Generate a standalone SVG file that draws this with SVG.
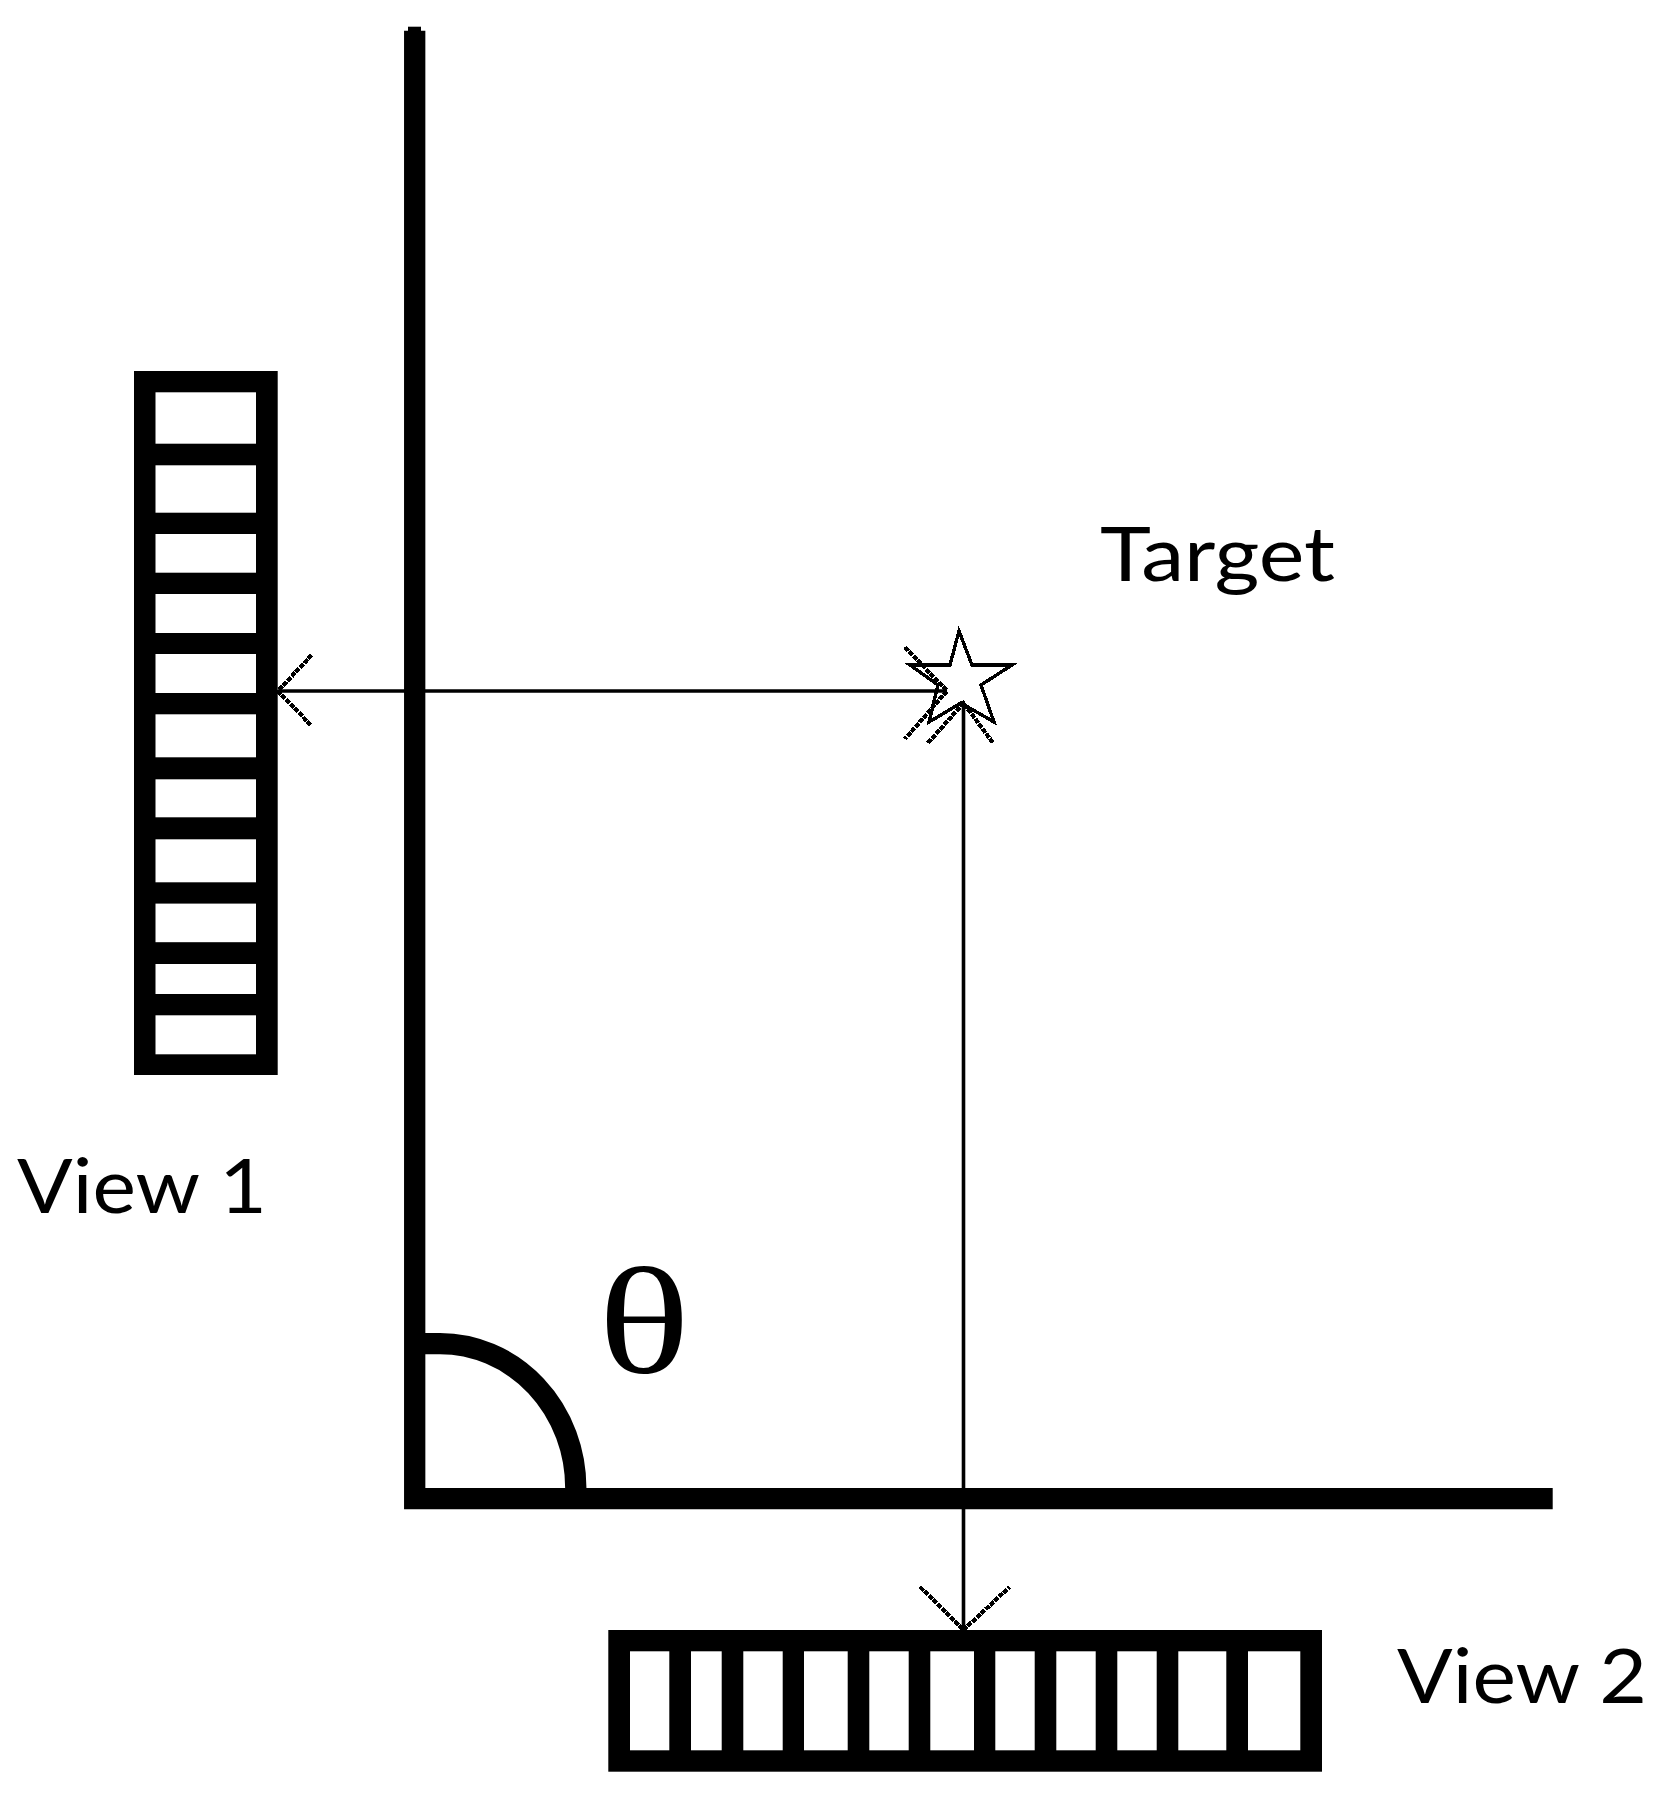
<svg xmlns="http://www.w3.org/2000/svg" width="1663" height="1796" viewBox="0 0 1663 1796">
<style>
.bar{fill:#000}
.cell{fill:#fff}
.axis{fill:none;stroke:#000;stroke-width:21.3}
.line{fill:none;stroke:#000;stroke-width:3.6}
.head{fill:none;stroke:#000;stroke-width:4.2;stroke-dasharray:5 1.1;shape-rendering:crispEdges}
.star{fill:#fff;stroke:#000;stroke-width:3.4;shape-rendering:crispEdges}
.label{font-family:"Lato","Open Sans","Liberation Sans",sans-serif;font-size:76px;fill:#000}
.theta{font-family:"Liberation Serif",serif;font-size:153px;fill:#000}
</style>
<rect width="1663" height="1796" fill="#fff"/>
<g id="axes">
<rect class="bar" x="408" y="26.7" width="13" height="6"/>
<path class="axis" d="M414.7 30.7V1498.7H1552.7"/>
<path class="axis" d="M425 1343.6H440A136 144.4 0 0 1 575.8 1488"/>
</g>
<g id="view1">
<rect class="bar" x="134" y="371" width="143.7" height="704"/>
<rect class="cell" x="155.5" y="392.3" width="100.5" height="51.4"/>
<rect class="cell" x="155.5" y="465.3" width="100.5" height="47.4"/>
<rect class="cell" x="155.5" y="534" width="100.5" height="38.7"/>
<rect class="cell" x="155.5" y="594" width="100.5" height="39"/>
<rect class="cell" x="155.5" y="654" width="100.5" height="39"/>
<rect class="cell" x="155.5" y="714.3" width="100.5" height="43"/>
<rect class="cell" x="155.5" y="779.3" width="100.5" height="38"/>
<rect class="cell" x="155.5" y="839.3" width="100.5" height="43"/>
<rect class="cell" x="155.5" y="903.6" width="100.5" height="38.6"/>
<rect class="cell" x="155.5" y="964" width="100.5" height="30"/>
<rect class="cell" x="155.5" y="1015.3" width="100.5" height="39"/>
<text class="label" x="17" y="1212.7" textLength="250" lengthAdjust="spacingAndGlyphs">View 1</text>
</g>
<g id="view2">
<rect class="bar" x="608.3" y="1630" width="713.7" height="141.7"/>
<rect class="cell" x="630" y="1651.3" width="39.3" height="99"/>
<rect class="cell" x="691" y="1651.3" width="30.7" height="99"/>
<rect class="cell" x="743.3" y="1651.3" width="39.4" height="99"/>
<rect class="cell" x="804" y="1651.3" width="43.7" height="99"/>
<rect class="cell" x="869.3" y="1651.3" width="39.4" height="99"/>
<rect class="cell" x="930.3" y="1651.3" width="43.7" height="99"/>
<rect class="cell" x="995.3" y="1651.3" width="39.4" height="99"/>
<rect class="cell" x="1056.3" y="1651.3" width="39.4" height="99"/>
<rect class="cell" x="1117.3" y="1651.3" width="39.4" height="99"/>
<rect class="cell" x="1178.3" y="1651.3" width="48" height="99"/>
<rect class="cell" x="1248" y="1651.3" width="52.3" height="99"/>
<text class="label" x="1397" y="1702.7" textLength="250" lengthAdjust="spacingAndGlyphs">View 2</text>
</g>
<g id="target">
<polygon class="star" points="959,631 950,665 910,665 938,685 929,722 961,703 994,722 981,685 1012,665 972,665"/>
<text class="label" x="1100" y="580.7" textLength="235" lengthAdjust="spacingAndGlyphs">Target</text>
</g>
<g id="theta">
<text class="theta" x="598" y="1373" textLength="92" lengthAdjust="spacingAndGlyphs">θ</text>
</g>
<g id="connectors">
<path class="line" d="M278 691H947"/>
<path class="head" d="M311.7 655L278 691L311.7 726"/>
<path class="head" d="M905 647L947 691L905 739"/>
<path class="line" d="M963.5 703V1630"/>
<path class="head" d="M928 743L963.5 703L993 743"/>
<path class="head" d="M920 1587L963.5 1630L1009.5 1587"/>
</g>
</svg>
